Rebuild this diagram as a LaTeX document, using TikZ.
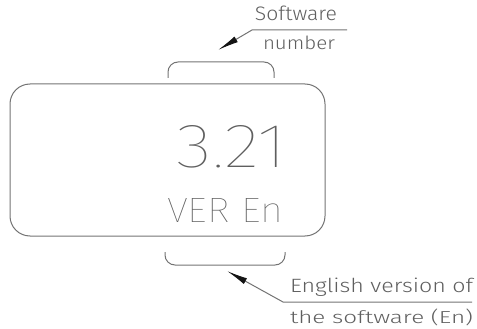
\documentclass[tikz,border=0pt]{standalone}
\usepackage{fontspec}
\IfFontExistsTF{Fira Sans Light}{\setmainfont{Fira Sans Light}}{%
  \IfFontExistsTF{Lato Light}{\setmainfont{Lato Light}}{\setmainfont{Liberation Sans}}}
\IfFontExistsTF{Fira Sans Thin}{\newfontfamily\thinf{Fira Sans Thin}}{%
  \IfFontExistsTF{Lato Hairline}{\newfontfamily\thinf{Lato Hairline}}{%
    \IfFontExistsTF{Poppins Thin}{\newfontfamily\thinf{Poppins Thin}}{\newfontfamily\thinf{Liberation Sans}}}}
\usetikzlibrary{arrows.meta}
\definecolor{ln}{RGB}{115,115,115}
\definecolor{tx}{RGB}{95,95,95}
\definecolor{tip}{RGB}{20,20,20}
\newcommand{\fitw}[3]{\resizebox{#1}{#2}{#3}}
\begin{document}
\begin{tikzpicture}[x=1pt,y=-1pt,line width=1pt,
  lbl/.style={inner sep=0pt,text=tx,font=\fontsize{19}{22}\selectfont,anchor=base},
  big/.style={inner sep=0pt,text=tx,anchor=base},
  dispbox/.style={draw=ln,rounded corners=20pt,inner sep=0pt},
  brk/.style={draw=ln,rounded corners=10pt},
  lead/.style={draw=ln,-{Latex[length=21pt,width=6.5pt,color=tip]}}]
\useasboundingbox (0,0) rectangle (477,329);
% display
\node[dispbox,minimum width=315pt,minimum height=152pt] (disp) at (167.5,160) {};
\node[big,font=\thinf\fontsize{60}{64}\selectfont] (num) at (232,167) {\fitw{110pt}{42pt}{3.21}};
\node[big,font=\thinf\fontsize{34}{38}\selectfont] (ver) at (225,222) {\fitw{116pt}{24pt}{VER En}};
% brackets
\coordinate (tbl) at (168,78);
\coordinate (tbr) at (274,78);
\draw[brk] (tbl) -- (168,62) -- (274,62) -- (tbr);
\coordinate (bbl) at (165,252);
\coordinate (bbr) at (285,252);
\draw[brk] (bbl) -- (165,265) -- (285,265) -- (bbr);
% labels
\node[lbl] (sw) at (296,21) {\fitw{82pt}{14.5pt}{Software}};
\node[lbl] (nb) at (299,50) {\fitw{72pt}{13.5pt}{number}};
\node[lbl] (en1) at (381.5,292) {\fitw{183pt}{14.5pt}{English version of}};
\node[lbl] (en2) at (381.5,323) {\fitw{183pt}{14.5pt}{the software (En)}};
% leaders
\coordinate (swend) at (347,30);
\coordinate (swk) at (252,30);
\coordinate (swtip) at (218,50);
\draw[lead] (swend) -- (swk) -- (swtip);
\coordinate (enend) at (472,302);
\coordinate (enk) at (283,302);
\coordinate (entip) at (227,271);
\draw[lead] (enend) -- (enk) -- (entip);
\end{tikzpicture}
\end{document}
